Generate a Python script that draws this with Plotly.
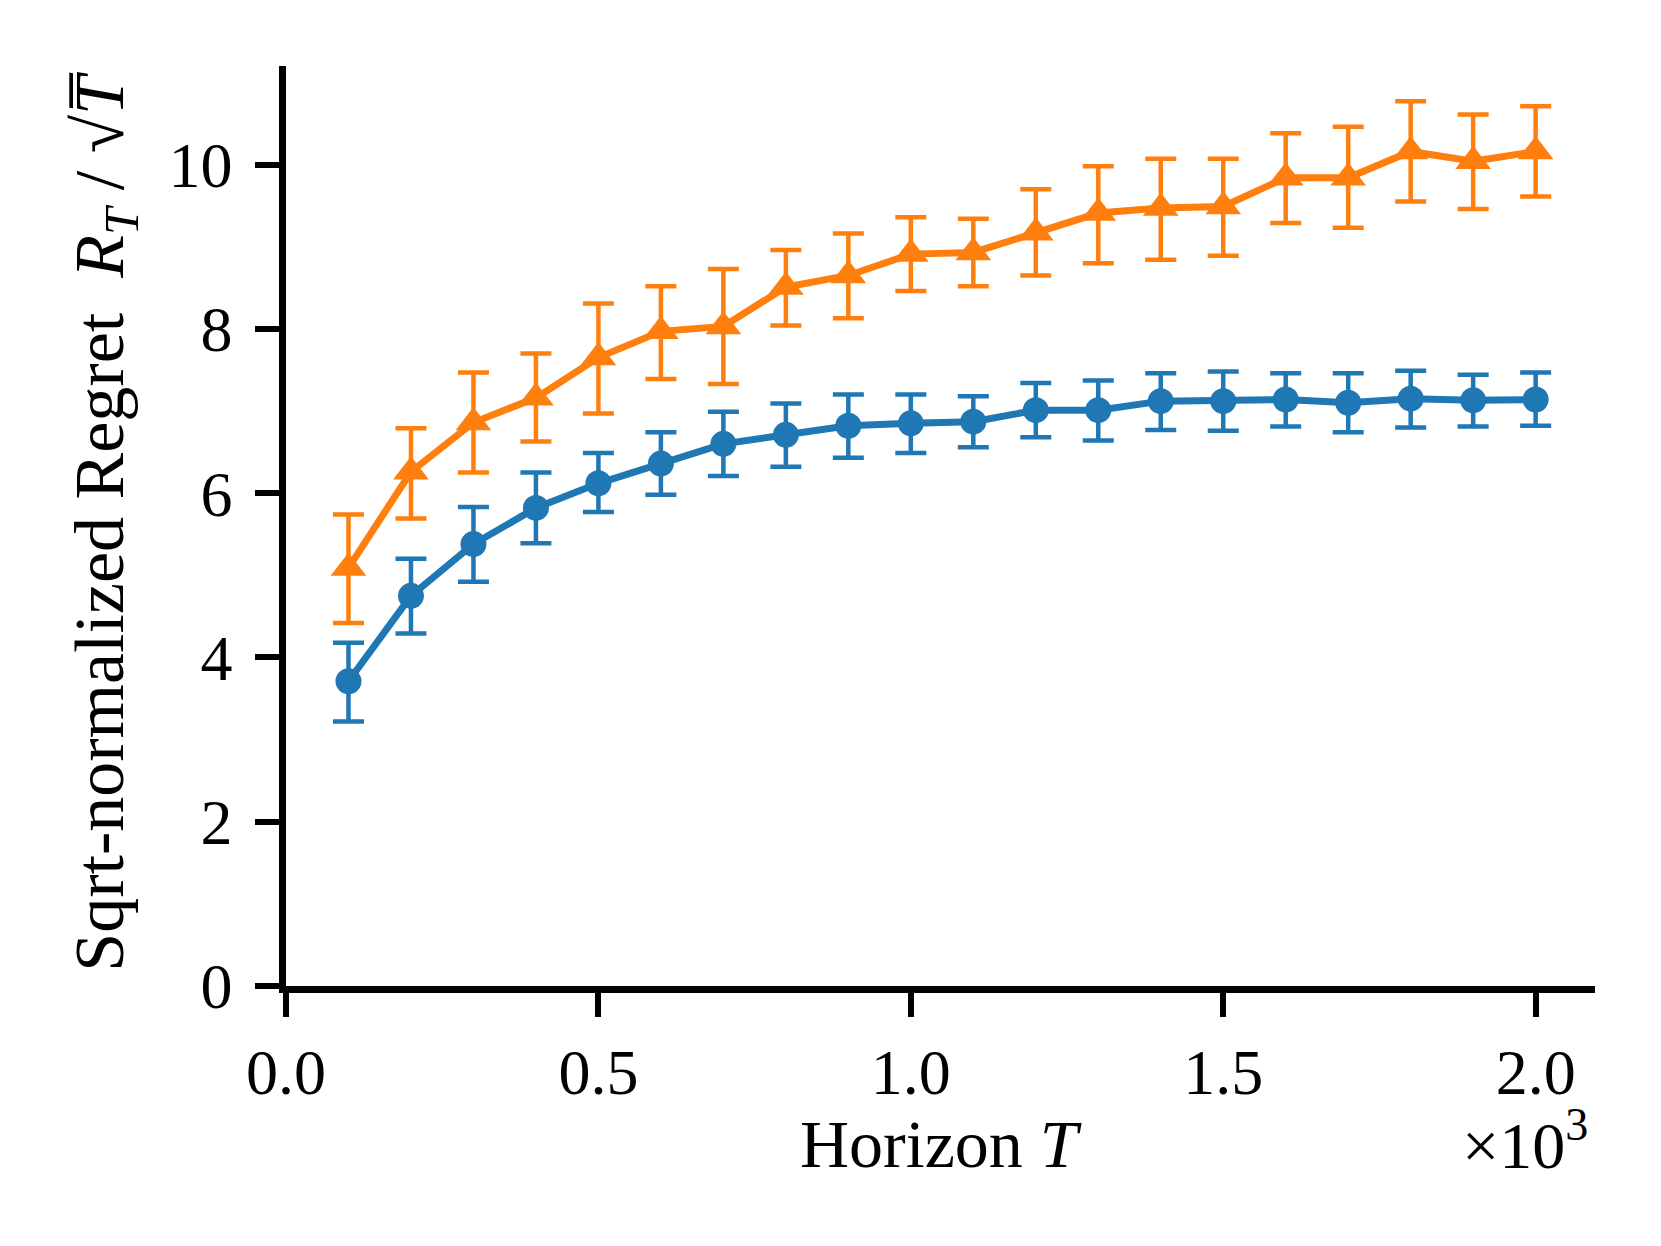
import plotly.graph_objects as go

# horizons T (x axis is shown in units of 10^3)
horizon = [100, 200, 300, 400, 500, 600, 700, 800, 900, 1000,
           1100, 1200, 1300, 1400, 1500, 1600, 1700, 1800, 1900, 2000]

# blue series (circles)
blue_mean = [3.71, 4.75, 5.38, 5.82, 6.12, 6.36, 6.60, 6.71, 6.82, 6.85,
             6.87, 7.01, 7.01, 7.12, 7.12, 7.14, 7.10, 7.15, 7.13, 7.14]
blue_upper = [4.18, 5.20, 5.83, 6.25, 6.49, 6.74, 6.99, 7.09, 7.20, 7.20,
              7.18, 7.34, 7.37, 7.46, 7.48, 7.46, 7.46, 7.49, 7.44, 7.47]
blue_lower = [3.22, 4.29, 4.92, 5.39, 5.77, 5.98, 6.21, 6.32, 6.43, 6.49,
              6.56, 6.68, 6.64, 6.77, 6.76, 6.81, 6.74, 6.80, 6.81, 6.82]

# orange series (triangles)
orange_mean = [5.09, 6.26, 6.86, 7.16, 7.65, 7.97, 8.03, 8.51, 8.65, 8.91,
               8.93, 9.17, 9.41, 9.47, 9.49, 9.84, 9.84, 10.16, 10.04, 10.16]
orange_upper = [5.74, 6.79, 7.47, 7.70, 8.31, 8.52, 8.73, 8.96, 9.16, 9.36,
                9.34, 9.70, 9.98, 10.07, 10.07, 10.38, 10.46, 10.77, 10.61, 10.71]
orange_lower = [4.42, 5.69, 6.25, 6.63, 6.97, 7.39, 7.33, 8.04, 8.13, 8.46,
                8.52, 8.65, 8.80, 8.84, 8.89, 9.29, 9.23, 9.55, 9.46, 9.61]

x_ticks = [0, 500, 1000, 1500, 2000]
y_ticks = [0, 2, 4, 6, 8, 10]

BLUE = '#1f77b4'
ORANGE = '#ff7f0e'
FONT = 'Liberation Serif'


def series(mean, upper, lower, color, symbol, size):
    return go.Scatter(
        x=horizon,
        y=mean,
        mode='lines+markers',
        line=dict(color=color, width=7),
        marker=dict(symbol=symbol, size=size, color=color),
        error_y=dict(
            type='data',
            symmetric=False,
            array=[u - m for u, m in zip(upper, mean)],
            arrayminus=[m - l for m, l in zip(mean, lower)],
            color=color,
            thickness=4.5,
            width=15.5
        ),
        showlegend=False
    )


fig = go.Figure()
fig.add_trace(series(blue_mean, blue_upper, blue_lower, BLUE, 'circle', 26))
fig.add_trace(series(orange_mean, orange_upper, orange_lower, ORANGE, 'triangle-up', 31))

axis_style = dict(
    showline=True,
    linecolor='black',
    linewidth=6.5,
    ticks='outside',
    ticklen=24,
    tickwidth=6,
    tickcolor='black',
    showgrid=False,
    zeroline=False,
    tickfont=dict(family=FONT, size=64, color='black'),
)

fig.update_xaxes(
    range=[0, 2095],
    tickvals=x_ticks,
    ticktext=[f'{v / 1000:.1f}' for v in x_ticks],
    **axis_style
)
fig.update_yaxes(
    range=[0, 11.2],
    tickvals=y_ticks,
    ticktext=[str(v) for v in y_ticks],
    ticklabelstandoff=10,
    **axis_style
)

# page body adds an 8px offset, so the figure is 16px smaller than the window
fig.update_layout(
    width=1653,
    height=1238,
    margin=dict(l=278, r=66, t=58, b=260),
    plot_bgcolor='white',
    paper_bgcolor='white',
    font=dict(family=FONT, size=64, color='black'),
    annotations=[
        dict(text='Horizon <i>T</i>', xref='paper', yref='paper',
             x=0.5, y=-0.172, xanchor='center', yanchor='middle',
             showarrow=False, font=dict(family=FONT, size=68)),
        dict(text='×10<sup>3</sup>', xref='paper', yref='paper',
             x=0.996, y=-0.168, xanchor='right', yanchor='middle',
             showarrow=False, font=dict(family=FONT, size=66)),
        dict(text='Sqrt-normalized Regret  <i>R<sub>T</sub></i> / √<i>T̅</i>',
             xref='paper', yref='paper', x=-0.138, y=0.505,
             xanchor='center', yanchor='middle', textangle=-90,
             showarrow=False, font=dict(family=FONT, size=70)),
    ]
)

fig.write_html('out.html')
